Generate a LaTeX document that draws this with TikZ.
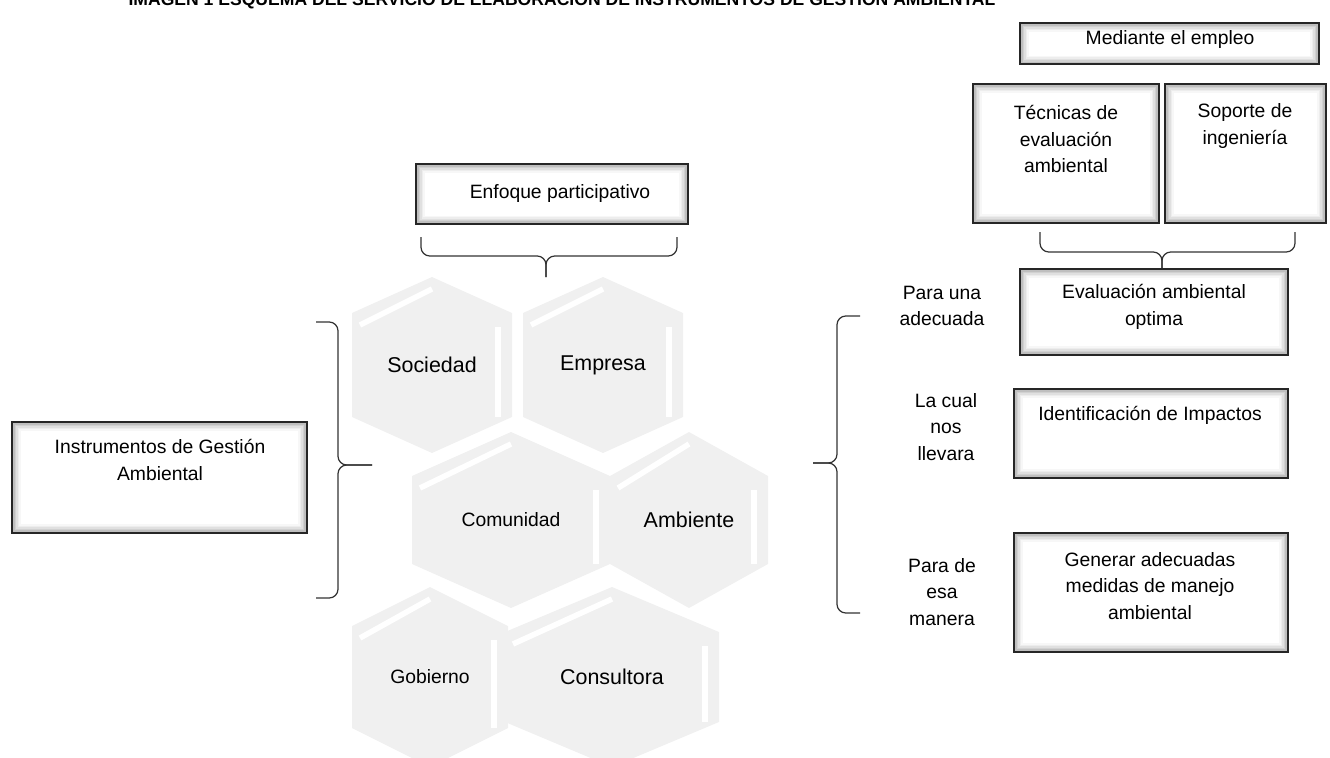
\documentclass[tikz,border=0pt]{standalone}
\usepackage{fontspec}
\setmainfont{Liberation Sans}
\usepackage{tikz}
\usepackage{xcolor}

\definecolor{hexgray}{HTML}{F0F0F0}

\tikzset{
  gbox/.style={draw=black!85, line width=1.3pt, fill=white, inner sep=0pt,
    path picture={
      \foreach \w/\c in {0.34/6, 0.28/14, 0.22/24, 0.16/36, 0.10/50, 0.05/62}
        \draw[gray!\c, line width=\w cm] (path picture bounding box.south west) rectangle (path picture bounding box.north east);
    }},
  btext/.style={align=center, inner sep=0pt, font=\fontsize{11}{15}\selectfont},
  hexlabel/.style={inner sep=0pt},
  hexbevel/.style={white, line width=0.11cm},
  bracket/.style={black!80, line width=0.7pt, rounded corners=5pt}
}

% hexagon: name, cx, cy, half width, half height, half side, text, font
\newcommand{\hexcell}[8]{%
  \fill[hexgray] ({#2-#4},{#3-#6}) -- (#2,{#3-#5}) -- ({#2+#4},{#3-#6})
     -- ({#2+#4},{#3+#6}) -- (#2,{#3+#5}) -- ({#2-#4},{#3+#6}) -- cycle;
  \draw[hexbevel] ({#2-#4+8},{#3-#6+12}) -- (#2,{#3-#5+12});
  \draw[hexbevel] ({#2+#4-14},{#3-#6+14}) -- ({#2+#4-14},{#3+#6});
  \node[hexlabel, font=#8] (#1) at (#2,#3) {#7};
}

\begin{document}
\begin{tikzpicture}[x=0.02cm, y=-0.02cm]
    \useasboundingbox (0,0) rectangle (1330,758);

    \node[anchor=base, inner sep=0pt, font=\bfseries\fontsize{10}{12}\selectfont] (title) at (562,5)
      {IMAGEN 1 ESQUEMA DEL SERVICIO DE ELABORACIÓN DE INSTRUMENTOS DE GESTIÓN AMBIENTAL};

    % hexagonos
    \hexcell{soc}{432}{365}{80}{88}{52}{Sociedad}{\fontsize{12.2}{14}\selectfont}
    \hexcell{emp}{603}{365}{80}{88}{52}{Empresa}{\fontsize{12.2}{14}\selectfont}
    \hexcell{com}{511}{520}{99}{88}{44}{Comunidad}{\fontsize{11}{14}\selectfont}
    \hexcell{amb}{689}{520}{79}{88}{44}{Ambiente}{\fontsize{12.2}{14}\selectfont}
    \hexcell{gob}{430}{677}{78}{90}{51}{Gobierno}{\fontsize{11}{14}\selectfont}
    \hexcell{con}{612}{677}{107}{90}{45}{Consultora}{\fontsize{12.2}{14}\selectfont}

    % cajas
    \node[gbox, minimum width=5.90cm, minimum height=2.22cm] (igaBox) at (159.5,477.5) {};
    \node[btext] (igaTxt) at (160,460) {Instrumentos de Gestión\\Ambiental};

    \node[gbox, minimum width=5.44cm, minimum height=1.20cm] (enfBox) at (552,194) {};
    \node[btext] (enfTxt) at (560,193) {Enfoque participativo};

    \node[gbox, minimum width=5.98cm, minimum height=0.82cm] (medBox) at (1169.5,43.5) {};
    \node[btext] (medTxt) at (1170,39) {Mediante el empleo};

    \node[gbox, minimum width=3.72cm, minimum height=2.78cm] (tecBox) at (1066,153.5) {};
    \node[btext] (tecTxt) at (1066,139) {Técnicas de\\evaluación\\ambiental};

    \node[gbox, minimum width=3.22cm, minimum height=2.78cm] (sopBox) at (1245.5,153.5) {};
    \node[btext] (sopTxt) at (1245,126) {Soporte de\\ingeniería};

    \node[gbox, minimum width=5.36cm, minimum height=1.72cm] (evaBox) at (1154,312) {};
    \node[btext] (evaTxt) at (1154,307) {Evaluación ambiental\\optima};

    \node[gbox, minimum width=5.48cm, minimum height=1.78cm] (ideBox) at (1151,433.5) {};
    \node[btext] (ideTxt) at (1150,415) {Identificación de Impactos};

    \node[gbox, minimum width=5.48cm, minimum height=2.38cm] (genBox) at (1151,592.5) {};
    \node[btext] (genTxt) at (1150,586) {Generar adecuadas\\medidas de manejo\\ambiental};

    \node[btext] (paraUna) at (942,306) {Para una\\adecuada};
    \node[btext] (laCual) at (946,427) {La cual\\nos\\llevara};
    \node[btext] (paraDe) at (942,592) {Para de\\esa\\manera};

    % llaves
    \coordinate (enfTip) at (546,277);
    \coordinate (tecTip) at (1162,268);
    \coordinate (rgtTip) at (813,463);
    \coordinate (lftTip) at (372,465);
    \draw[bracket] (421,237) |- (546,256) -- (enfTip);
    \draw[bracket] (677,237) |- (546,256) -- (enfTip);
    \draw[bracket] (1040,232) |- (1162,252) -- (tecTip);
    \draw[bracket] (1295,232) |- (1162,252) -- (tecTip);
    \draw[bracket] (860,316) -| (837,463) -- (rgtTip);
    \draw[bracket] (860,613) -| (837,463) -- (rgtTip);
    \draw[bracket] (316,322) -| (338,465) -- (lftTip);
    \draw[bracket] (316,598) -| (338,465) -- (lftTip);
\end{tikzpicture}
\end{document}
